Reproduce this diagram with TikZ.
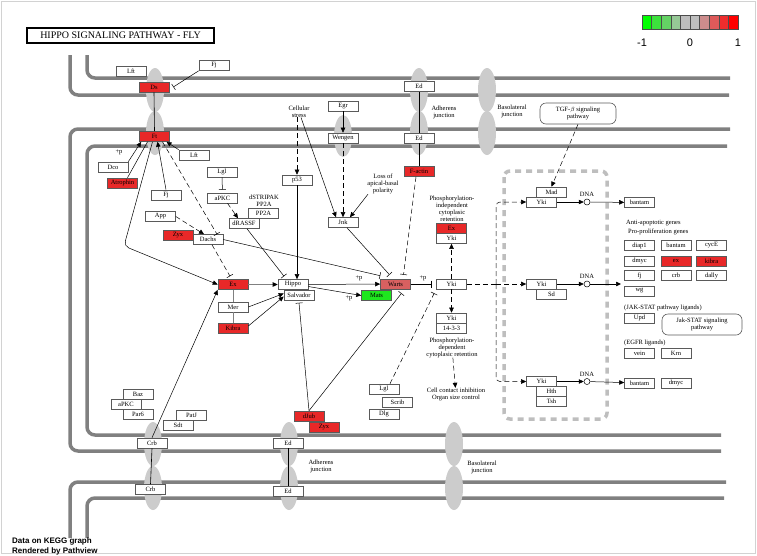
\documentclass[tikz,border=0pt]{standalone}
\usepackage{fontspec}
\setmainfont{Liberation Serif}
\newfontfamily\legendfont{Liberation Sans}
\usetikzlibrary{arrows.meta}

\definecolor{hitred}{RGB}{232,40,40}
\definecolor{midred}{RGB}{216,96,96}
\definecolor{hitgreen}{RGB}{30,230,30}
\definecolor{membrane}{RGB}{128,128,128}
\definecolor{junction}{RGB}{204,204,204}
\definecolor{boxline}{RGB}{90,90,90}
\definecolor{nucleus}{RGB}{190,190,190}

\begin{document}
\begin{tikzpicture}[x=1pt,y=-1pt,
  every node/.style={font=\fontsize{6.5}{7}\selectfont},
  gene/.style={draw=boxline, line width=0.6pt, fill=white, minimum width=30pt, minimum height=10pt, inner sep=0pt},
  generd/.style={gene, fill=hitred},
  txt/.style={align=center, inner sep=0pt},
  pathbox/.style={draw=boxline, line width=0.6pt, rounded corners=6pt, align=center, inner sep=0pt},
  mem/.style={draw=membrane, line width=3.5pt, rounded corners=8pt},
  oval/.style={fill=junction},
  act/.style={line width=0.5pt, -{Triangle[length=5pt,width=4.5pt]}},
  actg/.style={line width=0.8pt, draw=gray, -{Triangle[length=5pt,width=4.5pt,color=black]}},
  inh/.style={line width=0.5pt, -{Bar[width=7pt]}},
  dsh/.style={dash pattern=on 5pt off 3pt},
  dna/.style={circle, draw=black, line width=0.5pt, fill=white, minimum size=6pt, inner sep=0pt}]
\useasboundingbox (0,0) rectangle (757,555);
\draw[gray!35] (1,1) rectangle (755,553);

% Title
\node[draw=black, line width=1.4pt, minimum width=187pt, minimum height=15pt, inner sep=0pt, font=\fontsize{10}{11}\selectfont] (title) at (120.5,35.5) {HIPPO SIGNALING PATHWAY - FLY};

% Legend
\fill[draw=black!70, line width=0.3pt, fill={rgb,255:red,0;green,255;blue,0}] (642,15) rectangle (651.6,29);
\fill[draw=black!70, line width=0.3pt, fill={rgb,255:red,60;green,225;blue,60}] (651.6,15) rectangle (661.2,29);
\fill[draw=black!70, line width=0.3pt, fill={rgb,255:red,100;green,210;blue,100}] (661.2,15) rectangle (670.8,29);
\fill[draw=black!70, line width=0.3pt, fill={rgb,255:red,150;green,200;blue,150}] (670.8,15) rectangle (680.4,29);
\fill[draw=black!70, line width=0.3pt, fill={rgb,255:red,190;green,190;blue,190}] (680.4,15) rectangle (690,29);
\fill[draw=black!70, line width=0.3pt, fill={rgb,255:red,190;green,190;blue,190}] (690,15) rectangle (699.6,29);
\fill[draw=black!70, line width=0.3pt, fill={rgb,255:red,205;green,140;blue,140}] (699.6,15) rectangle (709.2,29);
\fill[draw=black!70, line width=0.3pt, fill={rgb,255:red,222;green,90;blue,90}] (709.2,15) rectangle (718.8,29);
\fill[draw=black!70, line width=0.3pt, fill={rgb,255:red,238;green,45;blue,45}] (718.8,15) rectangle (728.4,29);
\fill[draw=black!70, line width=0.3pt, fill={rgb,255:red,255;green,0;blue,0}] (728.4,15) rectangle (738,29);
\node[font=\legendfont\fontsize{11}{12}\selectfont] (lgmin) at (642,43) {-1};
\node[font=\legendfont\fontsize{11}{12}\selectfont] (lgzero) at (690,43) {0};
\node[font=\legendfont\fontsize{11}{12}\selectfont] (lgmax) at (738,43) {1};

% Membranes
\draw[mem] (87,55) -- (87,78) -- (730,78);
\draw[mem] (70,55) -- (70,95) -- (729,95);
\draw[mem] (730,129) -- (70,129) -- (70,451) -- (721,451);
\draw[mem] (727,146) -- (87,146) -- (87,435) -- (721,435);
\draw[mem] (726,482) -- (70,482) -- (70,538);
\draw[mem] (724,498) -- (87,498) -- (87,538);

% Junctions
\fill[oval] (155,90) ellipse [x radius=9, y radius=22];
\fill[oval] (155,133) ellipse [x radius=9, y radius=22];
\fill[oval] (419,90) ellipse [x radius=9, y radius=22];
\fill[oval] (419,133) ellipse [x radius=9, y radius=22];
\fill[oval] (487,90) ellipse [x radius=9, y radius=22];
\fill[oval] (487,133) ellipse [x radius=9, y radius=22];
\fill[oval] (343,136) ellipse [x radius=9, y radius=21];
\fill[oval] (153,444) ellipse [x radius=9, y radius=22];
\fill[oval] (153,488) ellipse [x radius=9, y radius=22];
\fill[oval] (289,444) ellipse [x radius=9, y radius=22];
\fill[oval] (289,488) ellipse [x radius=9, y radius=22];
\fill[oval] (454,444) ellipse [x radius=9, y radius=22];
\fill[oval] (454,488) ellipse [x radius=9, y radius=22];

% Nucleus
\draw[nucleus, line width=3.5pt, dash pattern=on 6pt off 5pt, rounded corners=6pt] (504,171) rectangle (607,419);

% Gene boxes
\node[gene] (lftA) at (131,71.5) {Lft};
\node[gene] (fjA) at (214,65.5) {Fj};
\node[generd] (ds) at (154,87) {Ds};
\node[gene] (edA) at (419,86.5) {Ed};
\node[generd] (ft) at (154.5,136.5) {Ft};
\node[gene] (edB) at (419,138) {Ed};
\node[gene] (egr) at (343,106) {Egr};
\node[gene] (wengen) at (343,138) {Wengen};
\node[generd] (fjactin) at (419,171.5) {F-actin};
\node[gene] (dco) at (113,167) {Dco};
\node[generd] (atrophin) at (122.5,183) {Atrophin};
\node[gene] (lftB) at (194,155) {Lft};
\node[gene] (lglA) at (222,172) {Lgl};
\node[gene] (apkcA) at (222.5,198) {aPKC};
\node[gene] (fjB) at (166,195) {Fj};
\node[gene] (app) at (160.5,216.5) {App};
\node[generd] (zyxA) at (178,235.5) {Zyx};
\node[gene] (dachs) at (208,239.5) {Dachs};
\node[gene] (pp2a) at (263.5,213.5) {PP2A};
\node[gene] (drassf) at (244,223.5) {dRASSF};
\node[gene] (p53) at (297,180) {p53};
\node[gene] (jnk) at (343,222.5) {Jnk};
\node[generd] (ex) at (233,284.5) {Ex};
\node[gene] (mer) at (233,307) {Mer};
\node[generd] (kibra) at (233,328) {Kibra};
\node[gene] (hippo) at (293,284.5) {Hippo};
\node[gene] (salvador) at (299,295.5) {Salvador};
\node[gene, fill=midred] (warts) at (395.5,284) {Warts};
\node[gene, fill=hitgreen] (mats) at (376.5,295.5) {Mats};
\node[gene] (yki) at (451.5,284) {Yki};
\node[generd] (exB) at (451.5,228.5) {Ex};
\node[gene] (ykiB) at (451.5,238.5) {Yki};
\node[gene] (ykiC) at (451.5,318) {Yki};
\node[gene] (b1433) at (451.5,328) {14-3-3};
\node[gene] (lglB) at (384,389) {Lgl};
\node[gene] (scrib) at (397.5,402) {Scrib};
\node[gene] (dlg) at (384,414) {Dlg};
\node[generd] (djub) at (309,416) {dJub};
\node[generd] (zyxB) at (324,427) {Zyx};
\node[gene] (baz) at (138,394) {Baz};
\node[gene] (par6) at (138,414) {Par6};
\node[gene] (apkcB) at (126,404) {aPKC};
\node[gene] (patj) at (191.5,415.5) {PatJ};
\node[gene] (sdt) at (178,425.5) {Sdt};
\node[gene] (crbA) at (152,443) {Crb};
\node[gene] (edC) at (288,443) {Ed};
\node[gene] (crbB) at (150.5,489.5) {Crb};
\node[gene] (edD) at (288,491) {Ed};

% Nucleus boxes
\node[gene] (mad) at (551.5,192) {Mad};
\node[gene] (ykiN1) at (541.5,202) {Yki};
\node[gene] (ykiN2) at (541.5,284) {Yki};
\node[gene] (sd) at (551.5,294) {Sd};
\node[gene] (ykiN3) at (541.5,381.5) {Yki};
\node[gene] (hth) at (551.5,391.5) {Hth};
\node[gene] (tsh) at (551.5,401.5) {Tsh};
\node[dna] (dna1) at (587,202) {};
\node[dna] (dna2) at (587,284) {};
\node[dna] (dna3) at (587,381.5) {};
\node[txt] (dnalabA) at (587,194) {DNA};
\node[txt] (dnalabB) at (587,276) {DNA};
\node[txt] (dnalabC) at (587,374) {DNA};
\node[gene] (bantamA) at (639.5,202.5) {bantam};
\node[gene] (bantamB) at (639.5,383) {bantam};
\node[gene] (dmycB) at (676,383) {dmyc};
\coordinate (genes) at (621,284);

% Target genes
\node[txt, anchor=west] (antiapop) at (626,223) {Anti-apoptotic genes};
\node[txt, anchor=west] (prolif) at (628,232) {Pro-proliferation genes};
\node[gene] (diap1) at (639.5,245.5) {diap1};
\node[gene] (bantamC) at (676,245.5) {bantam};
\node[gene] (cyce) at (711.5,245.5) {cycE};
\node[gene] (dmycA) at (639.5,261) {dmyc};
\node[generd] (exC) at (676,261) {ex};
\node[generd] (kibraB) at (711.5,261) {kibra};
\node[gene] (fjC) at (639.5,275.5) {fj};
\node[gene] (crb) at (676,275.5) {crb};
\node[gene] (dally) at (711.5,275.5) {dally};
\node[gene] (wg) at (639.5,291) {wg};
\node[txt, anchor=west] (jakl) at (624,308) {(JAK-STAT pathway ligands)};
\node[gene] (upd) at (639.5,318) {Upd};
\node[txt, anchor=west] (egfrl) at (624,343) {(EGFR ligands)};
\node[gene] (vein) at (639.5,353) {vein};
\node[gene] (krn) at (676,353) {Krn};

%Rounded Rect
\node[pathbox, minimum width=76pt, minimum height=21pt] (tgfb) at (578,113.5) {TGF-$\beta$ signaling\\pathway};
%Rounded Rect
\node[pathbox, minimum width=80pt, minimum height=21pt] (jakstat) at (702,324.5) {Jak-STAT signaling\\pathway};

% Text Node
\node[txt] (cellstress) at (299,111.5) {Cellular\\stress};
\node[txt] (losspol) at (383,184) {Loss of\\apical-basal\\polarity};
\node[txt] (adhA) at (444,112) {Adherens\\junction};
\node[txt] (basoA) at (512,111) {Basolateral\\junction};
\node[txt] (adhB) at (321,466.5) {Adherens\\junction};
\node[txt] (basoB) at (482,467.5) {Basolateral\\junction};
\node[txt] (stripak) at (264,200.5) {dSTRIPAK\\PP2A};
\node[txt] (phosind) at (452,208.5) {Phosphorylation-\\independent\\cytoplasic\\retention};
\node[txt] (phosdep) at (452,347.5) {Phosphorylation-\\dependent\\cytoplasic retention};
\node[txt] (contact) at (456,394.5) {Cell contact inhibition\\Organ size control};
\node[txt] (pA) at (119,152) {+p};
\node[txt] (pB) at (359,278) {+p};
\node[txt] (pC) at (349,298) {+p};
\node[txt] (pD) at (423,278) {+p};
\node[txt, anchor=west, align=left, font=\legendfont\bfseries\fontsize{8}{10}\selectfont] (credit) at (12,546) {Data on KEGG graph\\Rendered by Pathview};

% Connection
\draw[inh] (fjA.south west) -- ([xshift=4pt]ds.east);
\draw[line width=0.6pt] (ds.south) -- (ft.north);
\draw[line width=0.6pt] (edA.south) -- (edB.north);
\draw[line width=0.6pt] (edB.south) -- (fjactin.north);
\draw[line width=0.6pt] (crbA.south) -- (crbB.north);
\draw[line width=0.6pt] (edC.south) -- (edD.north);
\draw[act] (egr) -- (wengen);
% Connection
\draw[act] (dco.north east) -- ([xshift=2pt]ft.south west);
\draw[line width=0.5pt] ([xshift=5pt]atrophin.north) -- ([xshift=-7pt]ft.south);
\coordinate (ftbend) at (124,246);
\draw[act, rounded corners=5pt] ([xshift=-2pt]ft.south) -- (ftbend) -- (ex.west);
\draw[act] (fjB.north) -- ([xshift=3pt]ft.south);
\draw[act] (lftB.north west) -- ([xshift=12pt]ft.south);
\draw[inh, dsh] ([xshift=8pt]ft.south) -- ([xshift=9pt]dachs.north);
\draw[inh, shorten >=3pt] (lglA.south) -- (apkcA.north);
\draw[act, dsh] ([xshift=5pt]apkcA.south) -- ([xshift=-6pt]drassf.north);
\draw[act, dsh] (app.east) -- ([xshift=-4pt]dachs.north);
\draw[inh, dsh] ([xshift=4pt]dachs.south) -- ([xshift=-3pt,yshift=3pt]ex.north);
\draw[inh] (dachs.east) -- ([yshift=3pt]warts.north west);
\draw[inh] ([xshift=3pt]drassf.south) -- ([xshift=-9pt,yshift=3pt]hippo.north);
% Connection
\draw[act, dsh] ([xshift=-2pt]cellstress.south) -- (p53.north);
\draw[act] ([xshift=2pt]cellstress.south) -- ([xshift=-7pt]jnk.north);
\draw[act, dsh] (wengen) -- (jnk);
\draw[act] ([xshift=-15pt]losspol.south) -- ([xshift=7pt]jnk.north);
\draw[act] (p53.south) -- (p53.south |- hippo.north);
\draw[inh] ([xshift=4pt]jnk.south) -- ([xshift=-6pt,yshift=4pt]warts.north);
\draw[inh, dsh] ([xshift=-3pt]fjactin.south) -- ([xshift=8pt,yshift=4pt]warts.north);
% Connection
\draw[actg] (ex) -- (hippo);
\draw[gray, line width=0.8pt] (ex) -- (mer);
\draw[gray, line width=0.8pt] (mer) -- (kibra);
\draw[act] (mer.east) -- ([yshift=2pt]salvador.west);
\draw[act] ([yshift=2pt]kibra.east) -- ([yshift=-1pt]salvador.west);
\draw[act] (hippo) -- (warts);
\draw[act] ([yshift=-2pt]hippo.east) -- (mats.west);
\draw[inh] (warts.east) -- ([xshift=-5pt]yki.west);
\draw[act, dsh] (yki) -- (ykiB);
\draw[act, dsh] (yki) -- (ykiC);
\draw[act, dsh] (phosdep) -- (contact);
\draw[inh] (djub.north) -- ([yshift=-2pt]salvador.south);
\draw[inh] (djub.north) -- ([xshift=6pt,yshift=-4pt]warts.south);
\draw[inh, dsh] ([xshift=6pt]lglB.north) -- ([xshift=-2pt,yshift=-4pt]yki.south west);
\draw[act] (crbA.north) -- (ex.south west);
\draw[act, dsh] (tgfb.south) -- (mad.north);
% Connection
\coordinate (branch) at (496,284);
\draw[line width=0.5pt, dsh] (yki.east) -- (branch);
\draw[act, dsh] (branch) -- (ykiN2.west);
\draw[act, dsh, rounded corners=4pt] (branch) |- (ykiN1.west);
\draw[act, dsh, rounded corners=4pt] (branch) |- (ykiN3.west);
\draw[act] (ykiN1.east) -- (dna1);
\draw[act] (dna1) -- (bantamA);
\draw[act] (ykiN2.east) -- (dna2);
\draw[act] (dna2) -- (genes);
\draw[act] (ykiN3.east) -- (dna3);
\draw[act] (dna3) -- (bantamB);
\end{tikzpicture}
\end{document}
